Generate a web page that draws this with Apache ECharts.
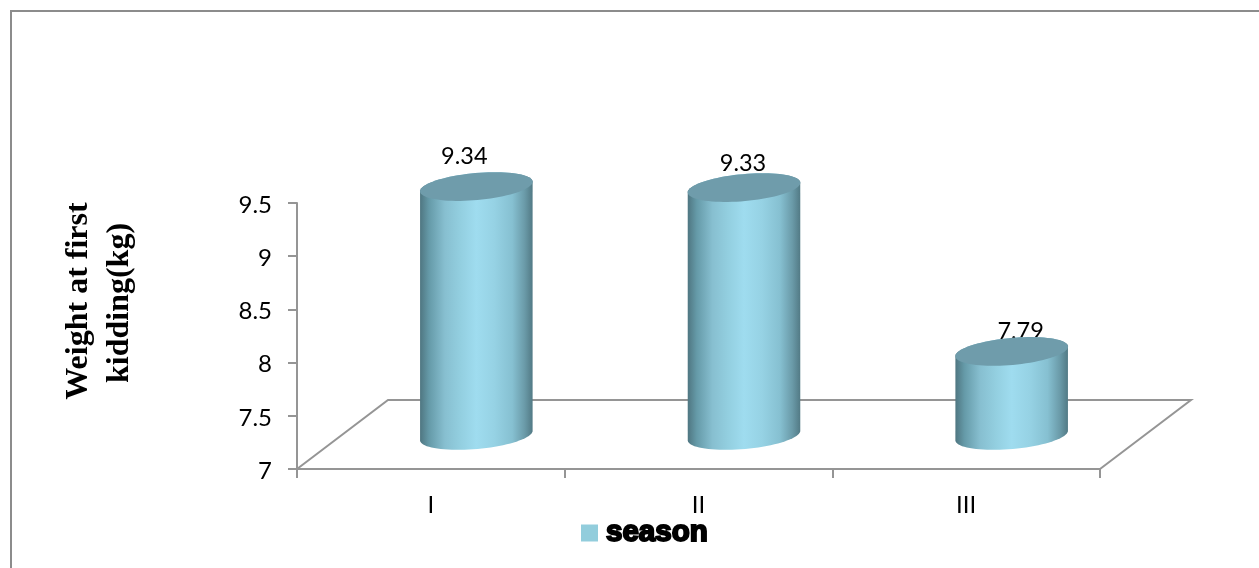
<!DOCTYPE html>
<html>
<head>
<meta charset="utf-8">
<style>html,body{margin:0;padding:0;background:#fff;overflow:hidden}#chart{width:1259px;height:568px}</style>
<script src="https://cdn.jsdelivr.net/npm/echarts@6/dist/echarts.min.js"></script>
</head>
<body>
<div id="chart"></div>
<script>
const categories = ['I', 'II', 'III'];
const seasonWeights = [9.34, 9.33, 7.79];
const yTicks = { min: 7, max: 9.5, step: 0.5 };

// Oblique projection of the chart floor
const DEPTH_X = 91;
const DEPTH_Y = -69;
const AXIS_GREY = '#959595';
const TEXT_FONT = 'Lato';
const SERIF_FONT = 'Liberation Serif';

// Nudges for the value captions, relative to each cylinder's top
const captionShift = [[-12, -30], [-1, -24], [9, -20]];

function tiltedEllipse(cx, cy, rx, ry, tilt, from, to, n) {
  const pts = [];
  for (let i = 0; i <= n; i++) {
    const t = from + (to - from) * i / n;
    const x = rx * Math.cos(t);
    const y = ry * Math.sin(t);
    pts.push([
      cx + x * Math.cos(tilt) - y * Math.sin(tilt),
      cy + x * Math.sin(tilt) + y * Math.cos(tilt)
    ]);
  }
  return pts;
}

function renderFloor(params) {
  const g = params.coordSys;
  const left = g.x, right = g.x + g.width, base = g.y + g.height;
  return {
    type: 'polyline',
    silent: true,
    shape: { points: [
      [left, base],
      [left + DEPTH_X, base + DEPTH_Y],
      [right + DEPTH_X, base + DEPTH_Y],
      [right, base]
    ] },
    style: { fill: 'none', stroke: AXIS_GREY, lineWidth: 2 }
  };
}

function renderCylinder(params, api) {
  const idx = api.value(0);
  const val = api.value(1);
  const top = api.coord([idx, val]);
  const bottom = api.coord([idx, yTicks.min]);
  const cx = top[0] + DEPTH_X / 2;
  const topY = top[1] + DEPTH_Y / 2 + 1;
  const botY = bottom[1] + DEPTH_Y / 2 + 1;
  const rx = 56.5, ry = 13.5, tilt = -0.09;

  const lowerArc = tiltedEllipse(cx, botY, rx, ry, tilt, 0, Math.PI, 40);
  const upperEdge = tiltedEllipse(cx, topY, rx, ry, tilt, Math.PI, 2 * Math.PI, 40);
  const shift = captionShift[idx];

  return {
    type: 'group',
    children: [
      {
        // The cap sits over the caption, so the caption goes first
        type: 'text',
        style: {
          x: cx + shift[0],
          y: topY + shift[1],
          text: val.toFixed(2),
          fill: '#000',
          fontFamily: TEXT_FONT,
          fontSize: 23.5,
          align: 'center',
          verticalAlign: 'middle'
        }
      },
      {
        type: 'polygon',
        shape: { points: lowerArc.concat(upperEdge) },
        style: {
          fill: new echarts.graphic.LinearGradient(0, 0, 1, 0, [
            { offset: 0, color: '#4f7681' },
            { offset: 0.08, color: '#659aa8' },
            { offset: 0.22, color: '#87bfd0' },
            { offset: 0.36, color: '#93cfe0' },
            { offset: 0.5, color: '#9fdcef' },
            { offset: 0.66, color: '#96d2e4' },
            { offset: 0.82, color: '#86c0d1' },
            { offset: 0.93, color: '#6a9aa8' },
            { offset: 1, color: '#527a85' }
          ])
        }
      },
      {
        type: 'polygon',
        shape: { points: tiltedEllipse(cx, topY, rx, ry, tilt, 0, 2 * Math.PI, 80) },
        style: { fill: '#6f9cab' }
      }
    ]
  };
}

const chart = echarts.init(document.getElementById('chart'), null, { renderer: 'canvas' });
chart.setOption({
  animation: false,
  backgroundColor: '#fff',
  grid: { left: 297, top: 203, width: 803, height: 266 },
  legend: {
    data: ['season'],
    left: 581,
    top: 517,
    padding: 0,
    icon: 'rect',
    itemWidth: 17,
    itemHeight: 17,
    selectedMode: false,
    textStyle: {
      color: '#000',
      fontFamily: 'Liberation Sans',
      fontWeight: 'bold',
      fontSize: 29.5,
      padding: [0, 0, 0, 3],
      textBorderColor: '#000',
      textBorderWidth: 2
    }
  },
  xAxis: {
    type: 'category',
    data: categories,
    axisLine: { lineStyle: { color: AXIS_GREY, width: 2 } },
    axisTick: { show: true, alignWithLabel: false, length: 9, lineStyle: { color: AXIS_GREY, width: 2 } },
    axisLabel: { color: '#000', fontSize: 24, margin: 24, fontFamily: TEXT_FONT }
  },
  yAxis: {
    type: 'value',
    min: yTicks.min,
    max: yTicks.max,
    interval: yTicks.step,
    splitLine: { show: false },
    axisLine: { show: true, lineStyle: { color: AXIS_GREY, width: 2 } },
    axisTick: { show: true, length: 9, lineStyle: { color: AXIS_GREY, width: 2 } },
    axisLabel: { color: '#000', fontSize: 24, margin: 25, verticalAlign: 'top', padding: [-10, 0, 0, 0], fontFamily: TEXT_FONT }
  },
  series: [
    {
      name: 'floor',
      type: 'custom',
      coordinateSystem: 'cartesian2d',
      renderItem: renderFloor,
      data: [[0, yTicks.min]],
      silent: true,
      z: 1
    },
    {
      name: 'season',
      type: 'custom',
      coordinateSystem: 'cartesian2d',
      renderItem: renderCylinder,
      itemStyle: { color: '#92cddc' },
      encode: { x: 0, y: 1 },
      data: seasonWeights.map((v, i) => [i, v]),
      silent: true,
      z: 2
    }
  ],
  graphic: [
    {
      type: 'polyline',
      silent: true,
      shape: { points: [[11, 568], [11, 11], [1259, 11]] },
      style: { fill: 'none', stroke: '#8c8c8c', lineWidth: 2 }
    },
    {
      type: 'text',
      silent: true,
      x: 79,
      y: 301,
      rotation: Math.PI / 2,
      style: {
        text: 'Weight at first',
        fontFamily: SERIF_FONT,
        fontWeight: 'bold',
        fontSize: 32,
        fill: '#000',
        align: 'center',
        verticalAlign: 'middle'
      }
    },
    {
      type: 'text',
      silent: true,
      x: 120,
      y: 303,
      rotation: Math.PI / 2,
      style: {
        text: 'kidding(kg)',
        fontFamily: SERIF_FONT,
        fontWeight: 'bold',
        fontSize: 32,
        fill: '#000',
        align: 'center',
        verticalAlign: 'middle'
      }
    }
  ]
});
</script>
</body>
</html>
